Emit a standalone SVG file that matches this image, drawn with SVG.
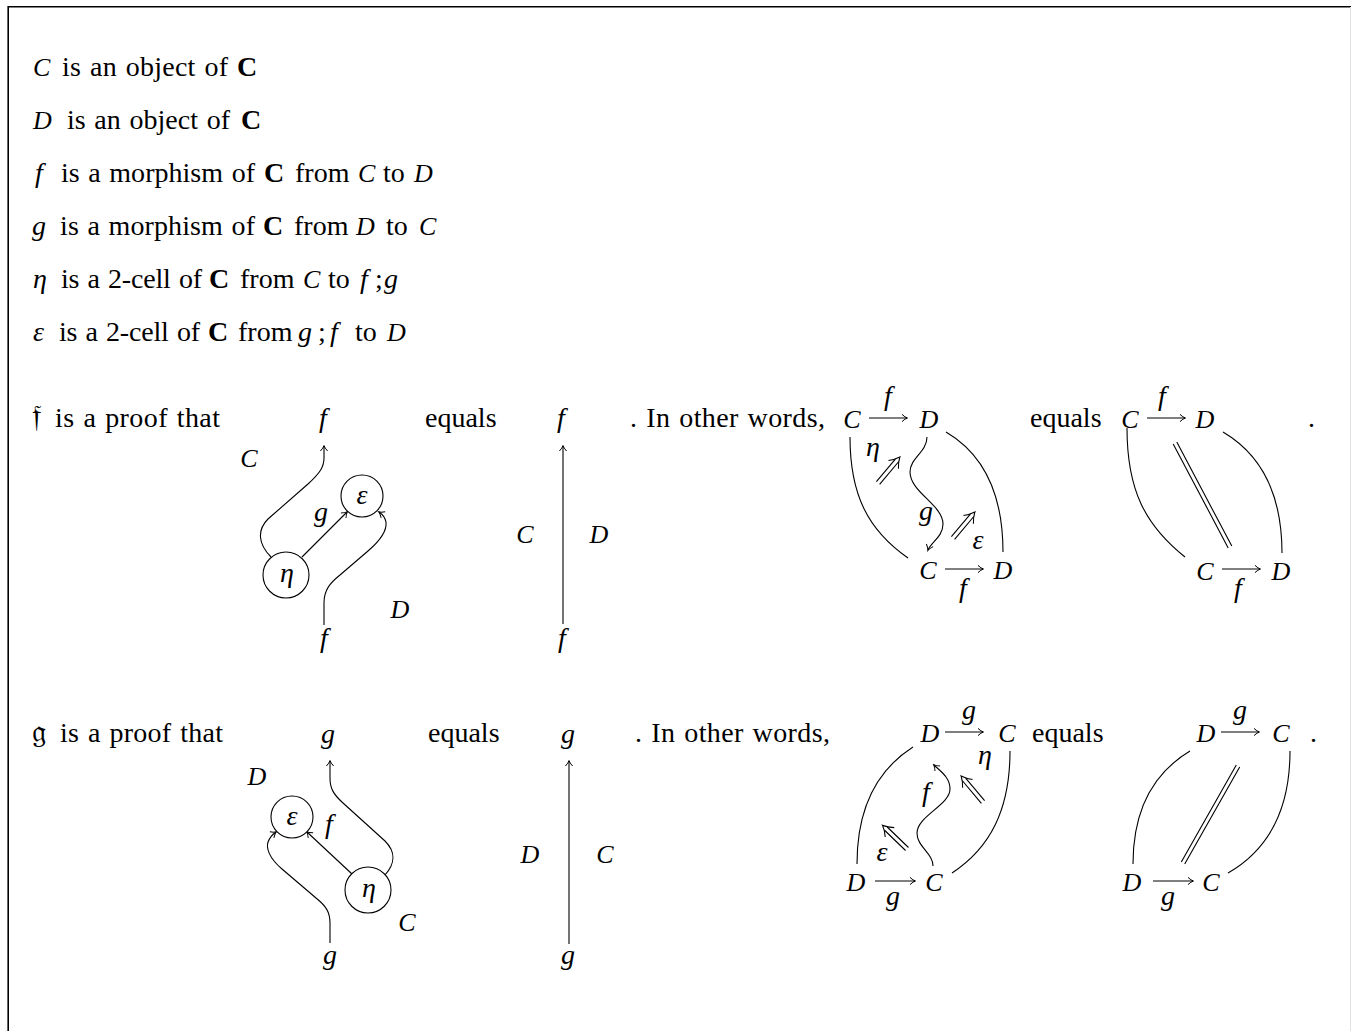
<svg xmlns="http://www.w3.org/2000/svg" width="1351" height="1031" viewBox="0 0 1351 1031">
<style>
.t{font-family:"Liberation Serif","Times New Roman",serif;font-size:28px;word-spacing:1.5px;fill:#000}
.m{font-family:"Liberation Serif","Times New Roman",serif;font-style:italic;font-size:28px;fill:#000}
.s{font-family:"Liberation Serif","Times New Roman",serif;font-style:italic;font-size:26px;fill:#000}
.c{text-anchor:middle}
.b{font-family:"Liberation Serif","Times New Roman",serif;font-weight:bold;font-size:28px;fill:#000}
.k{font-family:"DejaVu Serif","DejaVu Sans","Noto Sans",serif;font-size:32px;fill:#000}
.ln{fill:none;stroke:#000;stroke-width:1.1}
.ar{marker-end:url(#ah)}
.node{fill:#fff;stroke:#000;stroke-width:1.1}
</style>
<defs>
<marker id="ah" viewBox="-7 -6 9 12" refX="0" refY="0" markerWidth="9" markerHeight="12" orient="auto" markerUnits="userSpaceOnUse">
<path d="M-5,-3.6 Q-2,-0.7 0.5,0 Q-2,0.7 -5,3.6" fill="none" stroke="#000" stroke-width="1"/>
</marker>
<g id="dbl" fill="none" stroke="#000" stroke-width="1.1">
<path d="M0,-2.1 L29.5,-2.1 M0,2.1 L29.5,2.1"/>
<path d="M24,-6.5 Q29,-2 34,0 Q29,2 24,6.5"/>
</g>
</defs>
<rect x="0" y="0" width="1351" height="1031" fill="#fff"/>
<path d="M8.2,1031 L8.2,6.8 L1351,6.8" fill="none" stroke="#000" stroke-width="1.6"/>
<line x1="1350.5" y1="7" x2="1350.5" y2="1031" stroke="#e2e2e2" stroke-width="1"/>

<g id="stmt-C"><text class="s" x="33" y="76">C</text><text class="t" x="62" y="76" textLength="166" lengthAdjust="spacing">is an object of</text><text class="b" x="237" y="76">C</text></g>
<g id="stmt-D"><text class="s" x="33" y="129">D</text><text class="t" x="67" y="129" textLength="163" lengthAdjust="spacing">is an object of</text><text class="b" x="241" y="129">C</text></g>
<g id="stmt-f"><text class="m" x="35" y="182">f</text><text class="t" x="61" y="182" textLength="194" lengthAdjust="spacing">is a morphism of</text><text class="b" x="264" y="182">C</text><text class="t" x="295" y="182">from</text><text class="s" x="358" y="182">C</text><text class="t" x="383" y="182">to</text><text class="s" x="414" y="182">D</text></g>
<g id="stmt-g"><text class="m" x="32" y="235">g</text><text class="t" x="60" y="235" textLength="195" lengthAdjust="spacing">is a morphism of</text><text class="b" x="263" y="235">C</text><text class="t" x="294" y="235">from</text><text class="s" x="356" y="235">D</text><text class="t" x="386" y="235">to</text><text class="s" x="419" y="235">C</text></g>
<g id="stmt-eta"><text class="m" x="33" y="288">η</text><text class="t" x="61" y="288" textLength="141" lengthAdjust="spacing">is a 2-cell of</text><text class="b" x="209" y="288">C</text><text class="t" x="240" y="288">from</text><text class="s" x="303" y="288">C</text><text class="t" x="328" y="288">to</text><text class="m" x="360" y="288">f</text><text class="t" x="375" y="288">;</text><text class="m" x="384" y="288">g</text></g>
<g id="stmt-eps"><text class="m" x="33" y="341">ε</text><text class="t" x="59" y="341" textLength="141" lengthAdjust="spacing">is a 2-cell of</text><text class="b" x="208" y="341">C</text><text class="t" x="238" y="341">from</text><text class="m" x="298" y="341">g</text><text class="t" x="318" y="341">;</text><text class="m" x="330" y="341">f</text><text class="t" x="355" y="341">to</text><text class="s" x="387" y="341">D</text></g>

<g id="row-f-text">
<text class="k" x="32" y="427">𝔣</text><text class="t" x="55" y="427" textLength="165" lengthAdjust="spacing">is a proof that</text>
<text class="t" x="425" y="427">equals</text>
<text class="t" x="630" y="427" textLength="195" lengthAdjust="spacing">. In other words,</text>
<text class="t" x="1030" y="427">equals</text>
<text class="t" x="1308" y="427">.</text>
</g>
<g id="row-g-text">
<text class="k" x="32" y="742">𝔤</text><text class="t" x="60" y="742" textLength="163" lengthAdjust="spacing">is a proof that</text>
<text class="t" x="428" y="742">equals</text>
<text class="t" x="635" y="742" textLength="195" lengthAdjust="spacing">. In other words,</text>
<text class="t" x="1032" y="742">equals</text>
<text class="t" x="1310" y="742">.</text>
</g>

<g id="connectors">
<!-- string diagram 1 -->
<path class="ln ar" d="M271,557 C258,544 257,530 268,519 L308,484 C320,473 324,467 324,458 L324,446"/>
<path class="ln ar" d="M302,557 L347,512"/>
<path class="ln ar" d="M324,625 L324,603 C324,590 330,583 340,575 L368,551 C382,539 387,530 386,522 C385,517 382,514 379,512"/>
<!-- identity 1 -->
<path class="ln ar" d="M563,624 L563,446"/>
<!-- cd 1 -->
<path class="ln ar" d="M869,418 L907,418"/>
<path class="ln ar" d="M945,569 L983,569"/>
<path class="ln" d="M850,437 C850,495 868,530 908,558"/>
<path class="ln" d="M946,432 C985,455 1003,495 1003,552"/>
<path class="ln ar" d="M927,437 C927,452 910,458 910,472 C910,492 943,505 943,524 C943,537 931,542 928,550"/>
<use href="#dbl" transform="translate(878,483) rotate(-50)"/>
<use href="#dbl" transform="translate(953,538) rotate(-50)"/>
<!-- cd 2 -->
<path class="ln ar" d="M1147,418 L1185,418"/>
<path class="ln ar" d="M1222,569 L1260,569"/>
<path class="ln" d="M1127,428 C1127,490 1145,525 1185,557"/>
<path class="ln" d="M1223,432 C1262,455 1282,495 1282,553"/>
<path class="ln" d="M1176.8,442.1 L1231.8,546.1 M1173.2,443.9 L1228.2,547.9"/>
<!-- string diagram 2 -->
<path class="ln ar" d="M385,875 C395,864 396,852 385,841 L343,803 C333,794 330,788 330,778 L330,761"/>
<path class="ln ar" d="M352,874 L307,832"/>
<path class="ln ar" d="M330,943 L330,923 C330,912 326,906 316,898 L282,869 C269,858 266,848 268,842 C270,837 273,834 276,832"/>
<!-- identity 2 -->
<path class="ln ar" d="M569,944 L569,761"/>
<!-- cd 3 -->
<path class="ln ar" d="M945,732 L983,732"/>
<path class="ln ar" d="M875,881 L915,881"/>
<path class="ln" d="M913,747 C880,768 857,805 857,864"/>
<path class="ln" d="M1010,751 C1010,810 990,848 952,873"/>
<path class="ln ar" d="M933,866 C933,853 917,847 917,833 C917,816 950,805 950,789 C950,777 940,771 934,765"/>
<use href="#dbl" transform="translate(983,802) rotate(-130)"/>
<use href="#dbl" transform="translate(907,849) rotate(-136)"/>
<!-- cd 4 -->
<path class="ln ar" d="M1221,732 L1259,732"/>
<path class="ln ar" d="M1153,881 L1193,881"/>
<path class="ln" d="M1190,751 C1155,772 1133,808 1133,864"/>
<path class="ln" d="M1290,751 C1290,810 1268,850 1228,873"/>
<path class="ln" d="M1239.7,767 L1184.7,864 M1236.3,765 L1181.3,862"/>
</g>

<g id="sd1">
<text class="m c" x="323" y="427">f</text>
<text class="s c" x="249" y="467">C</text>
<g id="sd1-eps"><circle class="node" cx="362" cy="496" r="21"/><text class="m c" x="362" y="504">ε</text></g>
<g id="sd1-eta"><circle class="node" cx="286" cy="575" r="23"/><text class="m c" x="287" y="582">η</text></g>
<text class="m c" x="321" y="521">g</text>
<text class="s c" x="400" y="618">D</text>
<text class="m c" x="324" y="647">f</text>
</g>
<g id="id1">
<text class="m c" x="561" y="427">f</text>
<text class="s c" x="525" y="543">C</text>
<text class="s c" x="599" y="543">D</text>
<text class="m c" x="562" y="647">f</text>
</g>
<g id="cd1">
<text class="s c" x="852" y="428">C</text>
<text class="m c" x="888" y="405">f</text>
<text class="s c" x="929" y="428">D</text>
<text class="m c" x="873" y="456">η</text>
<text class="m c" x="926" y="520">g</text>
<text class="m c" x="978" y="549">ε</text>
<text class="s c" x="928" y="579">C</text>
<text class="s c" x="1003" y="579">D</text>
<text class="m c" x="963" y="597">f</text>
</g>
<g id="cd2">
<text class="s c" x="1130" y="428">C</text>
<text class="m c" x="1162" y="405">f</text>
<text class="s c" x="1205" y="428">D</text>
<text class="s c" x="1205" y="580">C</text>
<text class="s c" x="1281" y="580">D</text>
<text class="m c" x="1238" y="597">f</text>
</g>
<g id="sd2">
<text class="m c" x="328" y="743">g</text>
<text class="s c" x="257" y="785">D</text>
<g id="sd2-eps"><circle class="node" cx="292" cy="817" r="21"/><text class="m c" x="292" y="825">ε</text></g>
<g id="sd2-eta"><circle class="node" cx="368" cy="890" r="23"/><text class="m c" x="369" y="897">η</text></g>
<text class="m c" x="329" y="833">f</text>
<text class="s c" x="407" y="931">C</text>
<text class="m c" x="330" y="964">g</text>
</g>
<g id="id2">
<text class="m c" x="568" y="743">g</text>
<text class="s c" x="530" y="863">D</text>
<text class="s c" x="605" y="863">C</text>
<text class="m c" x="568" y="964">g</text>
</g>
<g id="cd3">
<text class="s c" x="930" y="742">D</text>
<text class="m c" x="969" y="719">g</text>
<text class="s c" x="1007" y="742">C</text>
<text class="m c" x="926" y="801">f</text>
<text class="m c" x="985" y="764">η</text>
<text class="m c" x="882" y="861">ε</text>
<text class="s c" x="856" y="891">D</text>
<text class="s c" x="934" y="891">C</text>
<text class="m c" x="893" y="905">g</text>
</g>
<g id="cd4">
<text class="s c" x="1206" y="742">D</text>
<text class="m c" x="1240" y="719">g</text>
<text class="s c" x="1281" y="742">C</text>
<text class="s c" x="1132" y="891">D</text>
<text class="s c" x="1211" y="891">C</text>
<text class="m c" x="1168" y="905">g</text>
</g>
</svg>
